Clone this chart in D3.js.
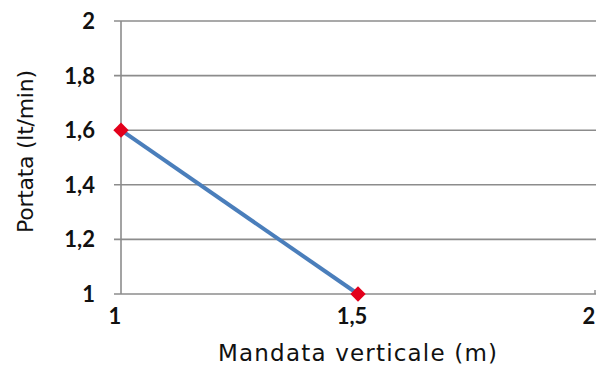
<!DOCTYPE html>
<html><head><meta charset="utf-8">
<script src="https://cdn.jsdelivr.net/npm/d3@7"></script>
<style>body{margin:0;background:#fff;}svg{display:block;}</style>
</head><body><svg id="c" width="598" height="367"></svg>
<script>
const xValues = [1, 1.5];
const yValues = [1.6, 1.0];
const xTicks = [1, 1.5, 2];
const yTicks = [1, 1.2, 1.4, 1.6, 1.8, 2];
const xTitle = "Mandata verticale (m)";
const yTitle = "Portata (lt/min)";

const svg = d3.select("#c");
const x = d3.scaleLinear().domain([1, 2]).range([121, 595]);
const y = d3.scaleLinear().domain([1, 2]).range([294, 21]);
const fmt = d => String(d).replace(".", ",");
const tickFont = "Lato, 'Noto Sans', sans-serif";
const titleFont = "'DejaVu Sans', Verdana, sans-serif";

// gridlines
svg.append("g").selectAll("line").data(yTicks).join("line")
  .attr("x1", 114).attr("x2", 596)
  .attr("y1", d => y(d)).attr("y2", d => y(d))
  .attr("stroke", "#8c8c8c").attr("stroke-width", 1.6);
// y axis line
svg.append("line").attr("x1", x(1)).attr("x2", x(1)).attr("y1", y(2)).attr("y2", y(1))
  .attr("stroke", "#8c8c8c").attr("stroke-width", 1.6);
// right tick at end of x axis
svg.append("line").attr("x1", 595).attr("x2", 595).attr("y1", y(1) - 4).attr("y2", y(1))
  .attr("stroke", "#8c8c8c").attr("stroke-width", 1.4);

// y tick labels
svg.append("g").selectAll("text").data(yTicks).join("text")
  .attr("x", 95).attr("y", d => y(d) + 8)
  .attr("text-anchor", "end").attr("font-size", 22).attr("font-weight", "bold")
  .attr("font-family", tickFont).attr("fill", "#111").text(fmt);
// x tick labels
svg.append("g").selectAll("text").data(xTicks).join("text")
  .attr("x", d => x(d) - 6).attr("y", 324)
  .attr("text-anchor", "middle").attr("font-size", 22).attr("font-weight", "bold")
  .attr("font-family", tickFont).attr("fill", "#111").text(fmt);

// titles
svg.append("text").attr("x", 218).attr("y", 361)
  .attr("textLength", 279).attr("lengthAdjust", "spacing")
  .attr("font-size", 23).attr("font-family", titleFont).attr("fill", "#111").text(xTitle);
svg.append("text").attr("transform", "translate(33,233) rotate(-90)")
  .attr("textLength", 163).attr("lengthAdjust", "spacing")
  .attr("font-size", 22).attr("font-family", titleFont).attr("fill", "#111").text(yTitle);

// line
const pts = xValues.map((v, i) => [v, yValues[i]]);
svg.append("path").datum(pts)
  .attr("d", d3.line().x(d => x(d[0])).y(d => y(d[1])))
  .attr("fill", "none").attr("stroke", "#4a7ebb").attr("stroke-width", 4);
// markers
svg.append("g").selectAll("path").data(pts).join("path")
  .attr("transform", d => `translate(${x(d[0])},${y(d[1])})`)
  .attr("d", d3.symbol().type(d3.symbolDiamond2).size(150))
  .attr("fill", "#e3001b");
</script></body></html>
